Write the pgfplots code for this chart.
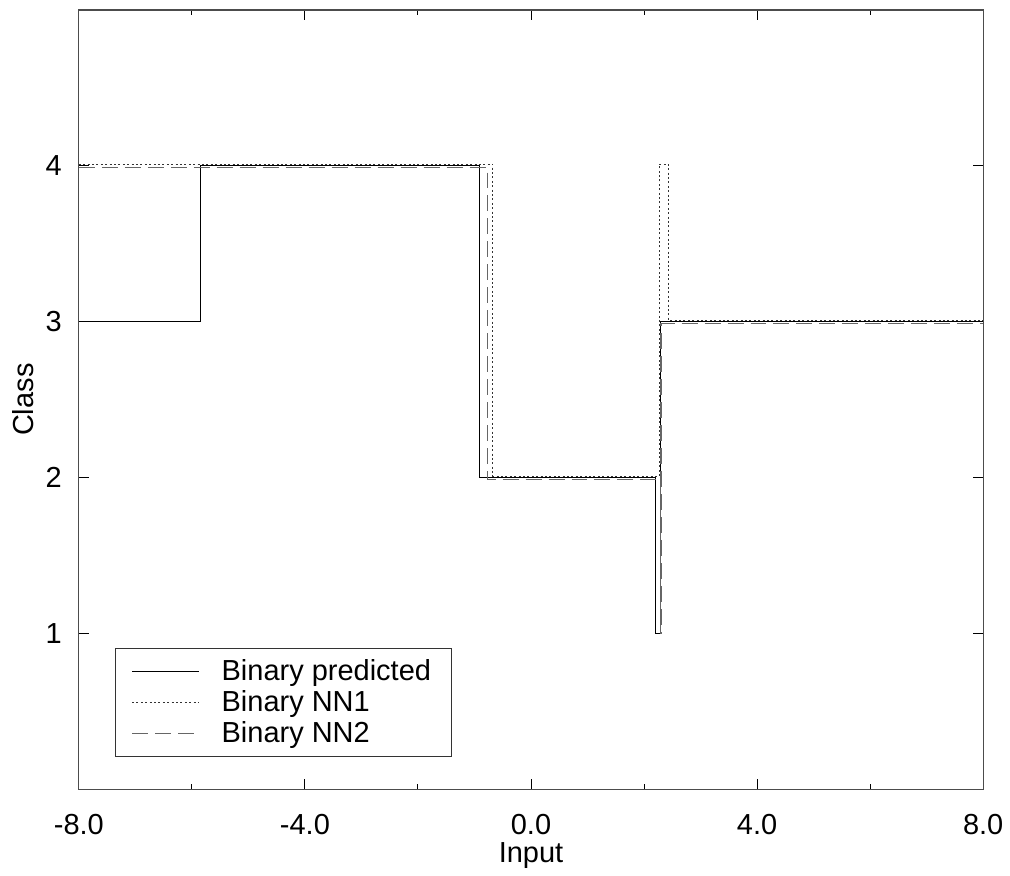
\documentclass[border=0pt]{standalone}
\usepackage{fontspec}
\setmainfont{Liberation Sans}
\usepackage{pgfplots}
\pgfplotsset{compat=1.18}
\begin{document}
\begin{tikzpicture}[font=\fontsize{14.5}{17}\selectfont]
\begin{axis}[
  scale only axis,
  width=452.5pt, height=390pt,
  xmin=-8, xmax=8, ymin=0, ymax=5,
  xtick={-8,-4,0,4,8},
  xticklabels={-8.0,-4.0,0.0,4.0,8.0},
  minor xtick={-6,-2,2,6},
  ytick={1,2,3,4},
  yticklabels={1,2,3,4},
  xticklabel shift=9pt,
  yticklabel style={xshift=-5pt},
  tick align=inside,
  major tick length=5pt,
  minor tick length=2.5pt,
  every tick/.style={black, line width=0.5pt},
  axis line style={line width=0.6pt, black!70},
  xlabel={Input}, ylabel={Class},
  xlabel style={yshift=3pt},
  ylabel style={yshift=-1pt},
  legend style={at={(axis description cs:0.04,0.042)}, anchor=south west,
    draw=black!80, line width=0.5pt, inner xsep=8pt, inner ysep=3.5pt,
    row sep=-0.5pt, font=\fontsize{14.5}{17}\selectfont,
    /tikz/every odd column/.append style={column sep=9pt}},
  legend cell align=left,
  legend image code/.code={\draw[#1] plot coordinates {(0pt,0pt) (33.5pt,0pt)};},
]
\addplot[black, line width=0.5pt] coordinates {
 (-8,3) (-5.85,3) (-5.85,4) (-0.905,4) (-0.905,2) (2.206,2) (2.206,1) (2.284,1) (2.284,3) (8,3)};
\addlegendentry{Binary predicted}
\addplot[black!80, line width=0.5pt, dash pattern=on 1pt off 1.2pt] coordinates {
 (-8,4.012) (-0.675,4.012) (-0.675,2.01) (2.267,2.01) (2.267,4.012) (2.431,4.012) (2.431,3.01) (8,3.01)};
\addlegendentry{Binary NN1}
\addplot[black!60, line width=0.6pt, dash pattern=on 8pt off 3.5pt] coordinates {
 (-8,3.99) (-0.77,3.99) (-0.77,1.99) (2.29,1.99) (2.29,1) (2.30,1) (2.30,2.99) (8,2.99)};
\addlegendentry{Binary NN2}
\end{axis}
\path (current axis.north east) ++(12.5pt,5pt);
\path (current bounding box.west) ++(-3pt,0pt);
\end{tikzpicture}
\end{document}
